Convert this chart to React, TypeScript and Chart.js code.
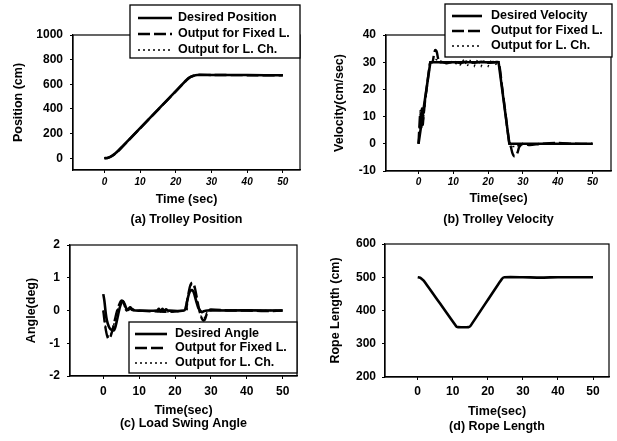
import React, { useEffect, useRef } from "react";
import { Chart, registerables } from "chart.js";

Chart.register(...registerables);

const FONT_FAMILY = 'Arial, "Liberation Sans", Helvetica, sans-serif';

// ---------- shared ----------
const timeTicks = [0, 10, 20, 30, 40, 50];

// ---------- (a) Trolley Position ----------
const posTime = [0, 1, 2, 3, 4, 5, 10, 15, 20, 23, 24, 25, 26, 30, 40, 50];
const posDesired = [0, 5, 18, 38, 65, 95, 245, 395, 545, 635, 658, 670, 675, 675, 675, 673];
const posFixed = [0, 4, 16, 36, 62, 92, 243, 393, 543, 633, 657, 671, 677, 676, 674, 673];
const posLch = [0, 5, 17, 37, 64, 94, 244, 394, 544, 634, 658, 670, 676, 674, 676, 673];
const posTicks = [0, 200, 400, 600, 800, 1000];

// ---------- (b) Trolley Velocity ----------
const velDesiredTime = [0, 3.4, 23, 26.1, 50];
const velDesired = [0, 30, 30, 0, 0];
const velFixedTime = [0, 0.4, 0.6, 0.8, 1.0, 1.2, 1.5, 2, 2.5, 3, 3.4, 4, 4.4, 4.8, 5.2, 5.6, 6, 7, 8, 10, 12, 14, 16, 18, 20, 22, 23, 24, 25, 26, 26.5, 27, 27.5, 28, 28.5, 29, 30, 32, 35, 40, 45, 50];
const velFixed = [0, 10, 12, 6, 13, 7, 11, 17, 22, 27, 30, 30, 32.5, 34.5, 34, 31.5, 30, 30, 29.6, 30.2, 29.7, 30.3, 29.8, 30.2, 29.8, 30, 30, 21, 11, 1, -1, -3.5, -4.6, -4.4, -3, -1, 0, -0.5, 0, 0.3, 0, 0];
const velLchTime = [0, 0.5, 0.8, 1.1, 1.5, 2, 3, 3.4, 4, 5, 6, 8, 10, 12, 13, 14, 15, 16, 17, 18, 19, 20, 21, 22, 23, 24, 25, 26, 27, 28, 30, 35, 40, 50];
const velLch = [0, 11, 7, 12, 10, 16, 27, 29.5, 30, 31, 30.5, 30, 29.8, 29, 31, 28.5, 31, 28.5, 31, 28.5, 31, 28.5, 31, 29, 30, 21, 11, 1, -1, -1, 0, 0, 0, 0];
const velTicks = [-10, 0, 10, 20, 30, 40];

// ---------- (c) Load Swing Angle ----------
const angDesiredTime = [0, 0.3, 0.7, 1, 1.5, 2, 2.5, 3, 3.5, 4, 4.5, 5, 5.5, 6, 6.5, 7, 7.5, 8, 9, 15, 15.5, 16, 16.5, 17, 17.5, 18, 22.5, 23, 23.5, 24, 24.5, 25, 25.5, 26, 26.5, 27, 27.5, 28, 29, 50];
const angDesired = [0.5, 0.3, -0.1, -0.3, -0.48, -0.57, -0.6, -0.6, -0.45, -0.2, 0.05, 0.22, 0.28, 0.18, 0.05, 0.02, 0.08, 0.02, 0, 0, 0.05, -0.03, 0.05, -0.03, 0.04, 0, 0, 0.1, 0.35, 0.55, 0.62, 0.6, 0.45, 0.25, 0.08, 0, -0.05, -0.02, 0, 0];
const angFixedTime = [0, 0.5, 1, 1.5, 2, 2.5, 3, 3.5, 4, 4.5, 5, 5.5, 6, 6.5, 7, 7.5, 8, 9, 22.8, 23.3, 23.8, 24.3, 24.8, 25.3, 25.8, 26.3, 26.8, 27.3, 27.8, 28.3, 28.8, 29.5, 30, 35, 40, 45, 50];
const angFixed = [0, -0.45, -0.75, -0.87, -0.8, -0.62, -0.4, -0.15, 0.05, 0.2, 0.3, 0.28, 0.12, 0, 0.05, 0.1, 0.05, 0, 0, 0.25, 0.55, 0.78, 0.85, 0.78, 0.55, 0.25, 0, -0.2, -0.3, -0.28, -0.12, 0, 0.03, 0, 0, -0.02, 0];
const angLchTime = [0, 0.5, 1, 1.5, 2, 2.5, 3, 3.5, 4, 4.5, 5, 5.5, 6, 7, 8, 9, 23, 23.5, 24, 24.5, 25, 25.5, 26, 26.5, 27, 27.5, 28, 28.5, 29, 30, 50];
const angLch = [0, -0.4, -0.7, -0.8, -0.75, -0.6, -0.4, -0.15, 0.05, 0.18, 0.27, 0.25, 0.1, 0.03, 0.05, 0, 0, 0.3, 0.6, 0.78, 0.8, 0.65, 0.4, 0.1, -0.1, -0.22, -0.25, -0.15, -0.05, 0, 0];
const angTicks = [-2, -1, 0, 1, 2];

// ---------- (d) Rope Length ----------
const ropeTime = [0, 0.5, 1, 2, 11, 11.5, 14.5, 15, 24, 24.7, 30, 35, 40, 50];
const rope = [500, 499, 496, 486, 352, 350, 350, 353, 495, 500, 500, 499, 500, 500];
const ropeTicks = [200, 300, 400, 500, 600];

// ---------- styles ----------
const SOLID = { borderWidth: 2.6, borderDash: [] as number[] };
const DASHED = { borderWidth: 2.4, borderDash: [12, 4] };
const DOTTED = { borderWidth: 1.4, borderDash: [2, 3] };

const TEXT_SIZE = 12.5; // titles, captions, legend
const TICK_SIZE = 12;
const LINE = TEXT_SIZE; // lineHeight 1
const HALF = LINE / 2;
const TICK = 3;

const pts = (xs: number[], ys: number[]) => xs.map((x, i) => ({ x, y: ys[i] }));

const series = (label: string, xs: number[], ys: number[], style: any, tension?: number) => ({
  label,
  data: pts(xs, ys),
  borderColor: "#000",
  backgroundColor: "#000",
  borderWidth: style.borderWidth,
  borderDash: style.borderDash,
  pointRadius: 0,
  fill: false,
  tension,
});

type Spec = {
  key: string;
  canvas: { x: number; y: number; w: number; h: number };
  area: { left: number; top: number; right: number; bottom: number };
  xRange: [number, number];
  yRange: [number, number];
  yTicks: number[];
  yTitle: string;
  xTitle: string;
  caption: string;
  italicX: boolean;
  xTickSize: number;
  yTitleX: number;
  yTickRight: number;
  xTickY: number;
  xTitleY: number;
  captionY: number;
  tension: number;
  datasets: any[];
  legend?: { left: number; top: number; right: number; bottom: number; x0: number; x1: number; tx: number; rows: number[] };
};

const specs: Spec[] = [
  {
    key: "a",
    canvas: { x: 0, y: 0, w: 308, h: 232 },
    area: { left: 73, top: 35, right: 300, bottom: 170 },
    xRange: [-8.8, 54.8],
    yRange: [-95, 1000],
    yTicks: posTicks,
    yTitle: "Position (cm)",
    xTitle: "Time (sec)",
    caption: "(a) Trolley Position",
    italicX: true,
    xTickSize: 10,
    yTitleX: 19,
    yTickRight: 63,
    xTickY: 182,
    xTitleY: 200,
    captionY: 220,
    tension: 0.2,
    datasets: [
      series("Desired Position", posTime, posDesired, SOLID),
      series("Output for Fixed L.", posTime, posFixed, DASHED),
      series("Output for L. Ch.", posTime, posLch, DOTTED),
    ],
    legend: { left: 130, top: 5, right: 300, bottom: 58, x0: 138, x1: 172, tx: 178, rows: [18, 34, 50] },
  },
  {
    key: "b",
    canvas: { x: 308, y: 0, w: 309, h: 232 },
    area: { left: 386, top: 35, right: 611, bottom: 171 },
    xRange: [-9.34, 55.3],
    yRange: [-10, 40],
    yTicks: velTicks,
    yTitle: "Velocity(cm/sec)",
    xTitle: "Time(sec)",
    caption: "(b) Trolley Velocity",
    italicX: true,
    xTickSize: 10,
    yTitleX: 340,
    yTickRight: 376,
    xTickY: 182,
    xTitleY: 199,
    captionY: 220,
    tension: 0,
    datasets: [
      series("Desired Velocity", velDesiredTime, velDesired, SOLID),
      series("Output for Fixed L.", velFixedTime, velFixed, DASHED, 0.3),
      series("Output for L. Ch.", velLchTime, velLch, DOTTED),
    ],
    legend: { left: 445, top: 4, right: 612, bottom: 57, x0: 452, x1: 482, tx: 491, rows: [16, 31, 46] },
  },
  {
    key: "c",
    canvas: { x: 0, y: 232, w: 308, h: 209 },
    area: { left: 70, top: 242, right: 297, bottom: 376 },
    xRange: [-9.28, 54],
    yRange: [-2, 2],
    yTicks: angTicks,
    yTitle: "Angle(deg)",
    xTitle: "Time(sec)",
    caption: "(c) Load Swing Angle",
    italicX: false,
    xTickSize: 12,
    yTitleX: 32,
    yTickRight: 60,
    xTickY: 391.7,
    xTitleY: 410.5,
    captionY: 424,
    tension: 0.35,
    datasets: [
      series("Desired Angle", angDesiredTime, angDesired, SOLID),
      series("Output for Fixed L.", angFixedTime, angFixed, DASHED),
      series("Output for L. Ch.", angLchTime, angLch, DOTTED),
    ],
    legend: { left: 129, top: 322, right: 297, bottom: 373, x0: 135, x1: 167, tx: 175, rows: [334, 348, 363] },
  },
  {
    key: "d",
    canvas: { x: 308, y: 232, w: 309, h: 209 },
    area: { left: 385, top: 244, right: 609, bottom: 377 },
    xRange: [-9.33, 54.56],
    yRange: [200, 600],
    yTicks: ropeTicks,
    yTitle: "Rope Length (cm)",
    xTitle: "Time(sec)",
    caption: "(d) Rope Length",
    italicX: false,
    xTickSize: 12,
    yTitleX: 336,
    yTickRight: 376,
    xTickY: 391.7,
    xTitleY: 411.5,
    captionY: 427,
    tension: 0.2,
    datasets: [series("Rope Length", ropeTime, rope, SOLID)],
  },
];

const font = (size: number, extra: any = {}) => ({ family: FONT_FAMILY, size, weight: "bold", lineHeight: 1, ...extra });

function framePlugin() {
  return {
    id: "frame",
    afterDatasetsDraw(chart: any) {
      const { ctx, chartArea: a } = chart;
      ctx.save();
      ctx.setLineDash([]);
      ctx.strokeStyle = "#000";
      ctx.lineWidth = 1.2;
      ctx.strokeRect(a.left, a.top, a.right - a.left, a.bottom - a.top);
      ctx.restore();
    },
  };
}

function legendPlugin(spec: Spec) {
  return {
    id: "boxLegend",
    afterDraw(chart: any) {
      const L = spec.legend;
      if (!L) return;
      const ox = spec.canvas.x;
      const oy = spec.canvas.y;
      const { ctx } = chart;
      ctx.save();
      ctx.setLineDash([]);
      ctx.fillStyle = "#fff";
      ctx.fillRect(L.left - ox, L.top - oy, L.right - L.left, L.bottom - L.top);
      ctx.strokeStyle = "#000";
      ctx.lineWidth = 1.3;
      ctx.strokeRect(L.left - ox, L.top - oy, L.right - L.left, L.bottom - L.top);
      chart.data.datasets.forEach((ds: any, i: number) => {
        const y = L.rows[i] - oy;
        ctx.beginPath();
        ctx.lineWidth = ds.borderWidth;
        ctx.setLineDash(ds.borderDash || []);
        ctx.moveTo(L.x0 - ox, y);
        ctx.lineTo(L.x1 - ox, y);
        ctx.stroke();
        ctx.setLineDash([]);
        ctx.font = `bold ${TEXT_SIZE}px ${FONT_FAMILY}`;
        ctx.fillStyle = "#000";
        ctx.textAlign = "left";
        ctx.textBaseline = "middle";
        ctx.fillText(ds.label, L.tx - ox, y);
      });
      ctx.restore();
    },
  };
}

function buildConfig(s: Spec): any {
  const c = s.canvas;
  const a = s.area;
  const bottom = c.y + c.h;
  const capPad = bottom - s.captionY - HALF;
  const titleTop = bottom - capPad - LINE;
  const xHeight = titleTop - a.bottom;
  const xTitlePad = titleTop - s.xTitleY - HALF;
  const yWidth = a.left - c.x;
  const yTitlePad = s.yTitleX - c.x - HALF;
  const xTickPad = s.xTickY - a.bottom - TICK - s.xTickSize / 2;
  const yTickPad = a.left - s.yTickRight - TICK;

  const grid = { display: true, drawOnChartArea: false, drawTicks: true, tickLength: TICK, color: "#000", lineWidth: 1 };
  const border = { display: true, color: "#000", width: 1.2 };

  return {
    type: "line",
    data: { datasets: s.datasets.map((d) => ({ ...d, tension: d.tension ?? s.tension })) },
    options: {
      responsive: false,
      maintainAspectRatio: false,
      animation: false,
      devicePixelRatio: 1,
      layout: { padding: { left: 0, top: a.top - c.y, right: c.x + c.w - a.right, bottom: 0 } },
      plugins: {
        legend: { display: false },
        tooltip: { enabled: false },
        title: {
          display: true,
          position: "bottom",
          fullSize: false,
          text: s.caption,
          color: "#000",
          font: font(TEXT_SIZE),
          padding: { top: 0, bottom: capPad },
        },
      },
      scales: {
        x: {
          type: "linear",
          min: s.xRange[0],
          max: s.xRange[1],
          afterBuildTicks: (sc: any) => {
            sc.ticks = timeTicks.map((v) => ({ value: v }));
          },
          afterFit: (sc: any) => {
            sc.height = xHeight;
          },
          grid,
          border,
          ticks: {
            color: "#000",
            font: font(s.xTickSize, s.italicX ? { style: "italic" } : {}),
            padding: xTickPad,
            maxRotation: 0,
            autoSkip: false,
            callback: (v: any) => String(v),
          },
          title: {
            display: true,
            text: s.xTitle,
            color: "#000",
            font: font(TEXT_SIZE),
            padding: { top: 0, bottom: xTitlePad },
          },
        },
        y: {
          type: "linear",
          min: s.yRange[0],
          max: s.yRange[1],
          afterBuildTicks: (sc: any) => {
            sc.ticks = s.yTicks.map((v) => ({ value: v }));
          },
          afterFit: (sc: any) => {
            sc.width = yWidth;
          },
          grid,
          border,
          ticks: {
            color: "#000",
            font: font(TICK_SIZE),
            padding: yTickPad,
            autoSkip: false,
            callback: (v: any) => String(v),
          },
          title: {
            display: true,
            text: s.yTitle,
            color: "#000",
            font: font(TEXT_SIZE),
            padding: { top: yTitlePad, bottom: 0 },
          },
        },
      },
    },
    plugins: [framePlugin(), legendPlugin(s)],
  };
}

function ChartPanel({ spec }: { spec: Spec }) {
  const ref = useRef<HTMLCanvasElement | null>(null);
  useEffect(() => {
    if (!ref.current) return;
    const chart = new Chart(ref.current, buildConfig(spec));
    return () => chart.destroy();
  }, [spec]);
  return (
    <canvas
      ref={ref}
      width={spec.canvas.w}
      height={spec.canvas.h}
      style={{ position: "absolute", left: spec.canvas.x, top: spec.canvas.y, width: spec.canvas.w, height: spec.canvas.h }}
    />
  );
}

export default function App() {
  return (
    <div style={{ position: "absolute", left: 0, top: 0, width: 617, height: 441, background: "#fff", overflow: "hidden" }}>
      {specs.map((s) => (
        <ChartPanel key={s.key} spec={s} />
      ))}
    </div>
  );
}
